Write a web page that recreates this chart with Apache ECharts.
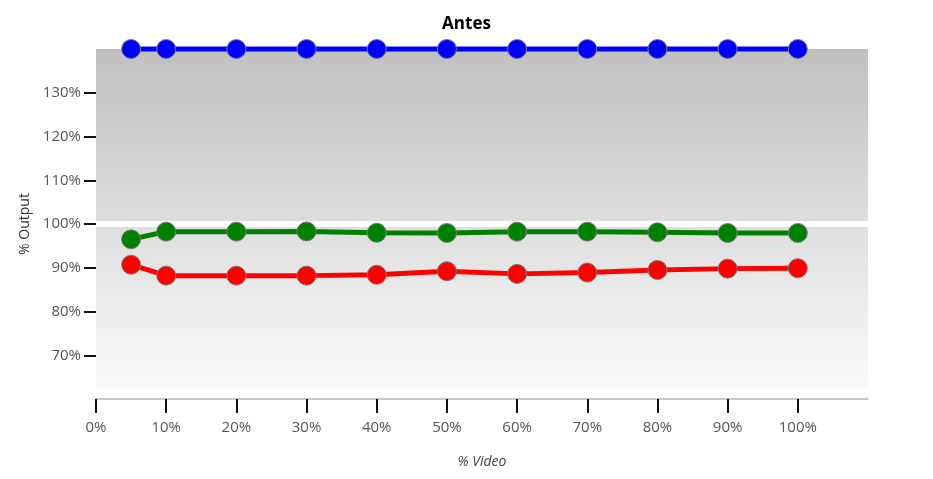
<!DOCTYPE html>
<html lang="es">
<head>
    <meta charset="UTF-8">
    <title>Antes</title>
    <script src="https://cdn.jsdelivr.net/npm/echarts@6/dist/echarts.min.js"></script>
    <style>
        html, body { margin: 0; padding: 0; background: #fff; }
    </style>
</head>
<body>
<div id="main" style="width: 933px;height:479px;"></div>
</body>
<script type="text/javascript">
    // datos (% video -> % output)
    var videoPct = [5, 10, 20, 30, 40, 50, 60, 70, 80, 90, 100];
    var azul  = [140, 140, 140, 140, 140, 140, 140, 140, 140, 140, 140];
    var verde = [96.5, 98.25, 98.25, 98.3, 98.0, 97.95, 98.25, 98.25, 98.1, 97.95, 97.95];
    var rojo  = [90.7, 88.2, 88.2, 88.2, 88.4, 89.2, 88.6, 88.9, 89.5, 89.8, 89.9];
    var xTicks = [0, 10, 20, 30, 40, 50, 60, 70, 80, 90, 100];
    var yTicks = [70, 80, 90, 100, 110, 120, 130];

    var myChart = echarts.init(document.getElementById('main'));

    function pares(vals) {
        return videoPct.map(function (x, i) { return [x, vals[i]]; });
    }

    function serie(nombre, color, vals) {
        return {
            name: nombre,
            type: 'line',
            data: pares(vals),
            clip: false,
            symbol: 'circle',
            symbolSize: 19,
            lineStyle: { color: color, width: 5 },
            itemStyle: { color: color, borderColor: '#7a7a7a', borderWidth: 1 },
            z: 5
        };
    }

    var font = '"Open Sans", "Noto Sans", sans-serif';

    var option = {
        animation: false,
        title: {
            text: 'Antes',
            left: 'center',
            top: 11,
            textStyle: { fontFamily: font, fontSize: 17, fontWeight: 'bold', color: '#000' }
        },
        grid: {
            left: 96, right: 65, top: 49, bottom: 80,
            show: true,
            borderWidth: 0,
            backgroundColor: new echarts.graphic.LinearGradient(0, 0, 0, 1, [
                { offset: 0, color: '#c0c0c0' },
                { offset: 0.968, color: '#fafafa' },
                { offset: 0.969, color: '#ffffff' },
                { offset: 1, color: '#ffffff' }
            ])
        },
        xAxis: {
            type: 'value',
            min: 0,
            max: 110,
            interval: 10,
            name: '% Video',
            nameLocation: 'middle',
            nameGap: 56,
            nameTextStyle: { fontFamily: font, fontSize: 14, fontStyle: 'italic', color: '#444' },
            axisLine: { show: true, lineStyle: { color: '#b8b8b8', width: 1.5 } },
            axisTick: {
                show: true, length: 14,
                lineStyle: { color: '#111', width: 2 },
                customValues: xTicks
            },
            axisLabel: {
                margin: 21,
                fontFamily: font, fontSize: 15, color: '#555',
                customValues: xTicks,
                formatter: function (v) { return v + '%'; }
            },
            splitLine: { show: false }
        },
        yAxis: {
            type: 'value',
            min: 60,
            max: 140,
            interval: 10,
            name: '% Output',
            nameLocation: 'middle',
            nameGap: 61,
            nameTextStyle: { fontFamily: font, fontSize: 14, color: '#333' },
            axisLine: { show: false },
            axisTick: {
                show: true, length: 12,
                lineStyle: { color: '#111', width: 2 },
                customValues: yTicks
            },
            axisLabel: {
                margin: 15,
                fontFamily: font, fontSize: 15, color: '#555',
                customValues: yTicks,
                formatter: function (v) { return v + '%'; }
            },
            splitLine: { show: false }
        },
        series: [
            {
                type: 'line',
                data: [],
                markLine: {
                    silent: true,
                    symbol: 'none',
                    label: { show: false },
                    lineStyle: { color: '#ffffff', width: 6, type: 'solid' },
                    data: [{ yAxis: 100 }]
                },
                z: 1
            },
            serie('Azul', '#0000ff', azul),
            serie('Verde', '#008000', verde),
            serie('Rojo', '#ff0000', rojo)
        ]
    };

    myChart.setOption(option);
</script>
</html>
